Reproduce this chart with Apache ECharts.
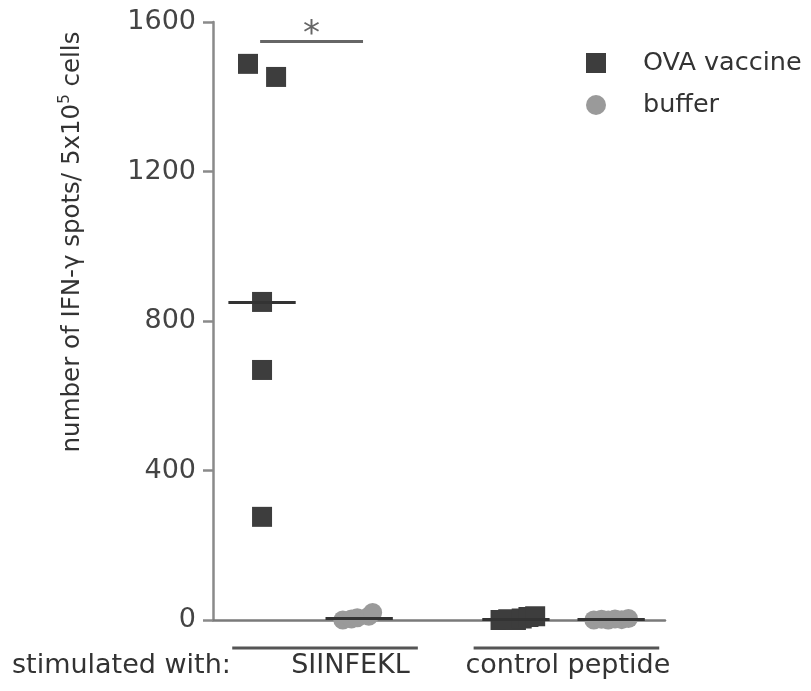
<!DOCTYPE html>
<html>
<head>
<meta charset="UTF-8">
<title>IFN-gamma spots</title>
<script src="https://cdn.jsdelivr.net/npm/echarts@6/dist/echarts.min.js"></script>
</head>
<body style="margin:0;background:#fff;">
<div id="chart" style="width:811px;height:691px;"></div>
<script>
    // group positions on the hidden x scale
    const groupX = { ovaSiin: 1, bufSiin: 2.01, ovaCtrl: 3.64, bufCtrl: 4.63 };

    // values (spots / 5x10^5 cells) with their jitter
    const ovaSiinValues = [1488, 1453, 851, 669, 276];
    const ovaSiinJitter = [-0.146, 0.146, 0, 0, 0];
    const bufSiinValues = [0, 3, 6, 10, 20];
    const bufSiinJitter = [-0.17, -0.08, -0.02, 0.1, 0.14];
    const ovaCtrlValues = [0, 2, 0, 4, 8, 10];
    const ovaCtrlJitter = [-0.16, -0.08, 0, 0.06, 0.13, 0.2];
    const bufCtrlValues = [0, 2, 0, 3, 1, 4];
    const bufCtrlJitter = [-0.18, -0.1, -0.03, 0.04, 0.11, 0.18];

    const yTicks = [0, 400, 800, 1200, 1600];
    const groupLabels = ['SIINFEKL', 'control peptide'];
    const groupSpans = [[0.69, 2.62], [3.2, 5.13]];
    const groupLabelX = [1.92, 4.18];

    function points(base, vals, jit) {
        return vals.map((v, i) => [base + jit[i], v]);
    }
    function median(vals) {
        const s = vals.slice().sort((a, b) => a - b);
        const m = Math.floor(s.length / 2);
        return s.length % 2 ? s[m] : (s[m - 1] + s[m]) / 2;
    }
    function medianLine(base, vals) {
        const m = median(vals);
        return {
            silent: true,
            symbol: 'none',
            lineStyle: { color: '#333', width: 3, type: 'solid' },
            label: { show: false },
            data: [[{ coord: [base - 0.35, m] }, { coord: [base + 0.35, m] }]]
        };
    }

    const chart = echarts.init(document.getElementById('chart'));
    const font = 'DejaVu Sans';

    chart.setOption({
        animation: false,
        textStyle: { fontFamily: font },
        grid: { left: 213, top: 22, right: 146, bottom: 71 },
        legend: {
            orient: 'vertical',
            left: 581,
            top: 45,
            itemWidth: 20,
            itemHeight: 20,
            itemGap: 16,
            textStyle: { fontSize: 25.5, color: '#333', fontFamily: font, padding: [0, 0, 0, 32] },
            data: [
                { name: 'OVA vaccine', icon: 'rect' },
                { name: 'buffer', icon: 'circle' }
            ]
        },
        xAxis: {
            type: 'value',
            min: 0.49,
            max: 5.19,
            splitLine: { show: false },
            axisTick: { show: false },
            axisLabel: { show: false },
            axisLine: { show: true, lineStyle: { color: '#7a7a7a', width: 2.5 } }
        },
        yAxis: {
            type: 'value',
            min: yTicks[0],
            max: yTicks[yTicks.length - 1],
            interval: 400,
            name: '{a|number of IFN-γ spots/ 5x10}{s|5}{a| cells}',
            nameLocation: 'middle',
            nameGap: 126,
            nameTextStyle: {
                padding: [0, 0, 0, 158],
                rich: {
                    a: { fontSize: 24.5, color: '#333', fontFamily: font },
                    s: { fontSize: 15, color: '#333', fontFamily: font, padding: [0, 0, 14, 0] }
                }
            },
            splitLine: { show: false },
            axisLine: { show: true, lineStyle: { color: '#8a8a8a', width: 2.5 } },
            axisTick: { show: true, length: 10, lineStyle: { color: '#8a8a8a', width: 2.5 } },
            axisLabel: { fontSize: 27, color: '#444', margin: 17, formatter: v => String(v) }
        },
        series: [
            {
                name: 'OVA vaccine',
                type: 'scatter',
                symbol: 'rect',
                symbolSize: 20,
                itemStyle: { color: '#3d3d3d', opacity: 1 },
                data: points(groupX.ovaSiin, ovaSiinValues, ovaSiinJitter),
                markLine: medianLine(groupX.ovaSiin, ovaSiinValues),
                z: 3
            },
            {
                name: 'buffer',
                type: 'scatter',
                symbol: 'circle',
                symbolSize: 19,
                itemStyle: { color: '#9a9a9a', opacity: 1 },
                data: points(groupX.bufSiin, bufSiinValues, bufSiinJitter),
                markLine: medianLine(groupX.bufSiin, bufSiinValues),
                z: 3
            },
            {
                name: 'OVA vaccine',
                type: 'scatter',
                symbol: 'rect',
                symbolSize: 20,
                itemStyle: { color: '#3d3d3d', opacity: 1 },
                data: points(groupX.ovaCtrl, ovaCtrlValues, ovaCtrlJitter),
                markLine: medianLine(groupX.ovaCtrl, ovaCtrlValues),
                z: 3
            },
            {
                name: 'buffer',
                type: 'scatter',
                symbol: 'circle',
                symbolSize: 19,
                itemStyle: { color: '#9a9a9a', opacity: 1 },
                data: points(groupX.bufCtrl, bufCtrlValues, bufCtrlJitter),
                markLine: medianLine(groupX.bufCtrl, bufCtrlValues),
                z: 3
            },
            {
                // significance bar between OVA and buffer for SIINFEKL
                type: 'line',
                data: [],
                markLine: {
                    silent: true,
                    symbol: 'none',
                    lineStyle: { color: '#666', width: 3, type: 'solid' },
                    label: {
                        show: true,
                        position: 'middle',
                        formatter: '*',
                        fontSize: 34,
                        color: '#666',
                        distance: -11
                    },
                    data: [[{ coord: [0.98, 1549] }, { coord: [2.05, 1549] }]]
                }
            }
        ]
    });

    // group underlines and labels below the axis
    const baseY = chart.convertToPixel({ gridIndex: 0 }, [1, 0])[1];
    const labelFont = '27px "DejaVu Sans"';
    const graphics = [];
    groupSpans.forEach((span, i) => {
        const a = chart.convertToPixel({ gridIndex: 0 }, [span[0], 0]);
        const b = chart.convertToPixel({ gridIndex: 0 }, [span[1], 0]);
        graphics.push({
            type: 'line',
            shape: { x1: a[0], y1: baseY + 28, x2: b[0], y2: baseY + 28 },
            style: { stroke: '#555', lineWidth: 3 }
        });
        const c = chart.convertToPixel({ gridIndex: 0 }, [groupLabelX[i], 0]);
        graphics.push({
            type: 'text',
            x: c[0],
            y: baseY + 46,
            style: { text: groupLabels[i], font: labelFont, fill: '#333', align: 'center', verticalAlign: 'middle' }
        });
    });
    graphics.push({
        type: 'text',
        x: 12,
        y: baseY + 46,
        style: { text: 'stimulated with:', font: labelFont, fill: '#333', align: 'left', verticalAlign: 'middle' }
    });
    chart.setOption({ graphic: graphics });
</script>
</body>
</html>
